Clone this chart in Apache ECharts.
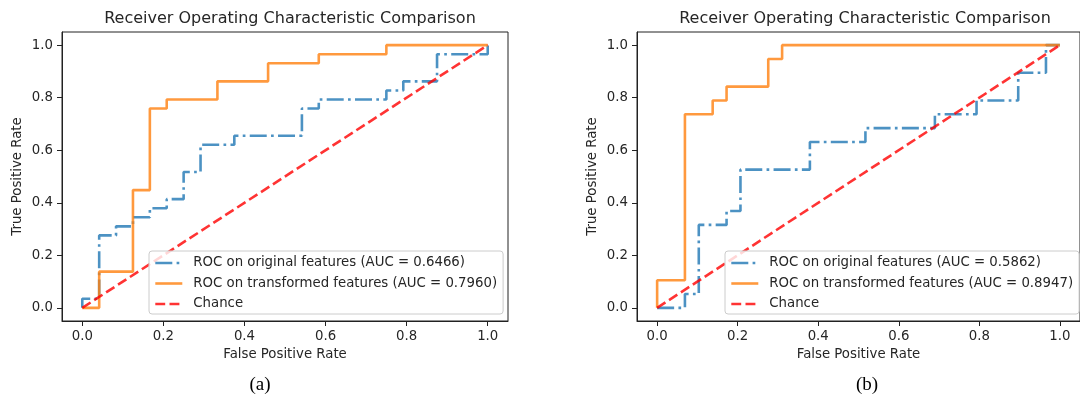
<!DOCTYPE html>
<html>
<head>
<meta charset="utf-8">
<script src="https://cdn.jsdelivr.net/npm/echarts@6/dist/echarts.min.js"></script>
<style>
html,body{margin:0;padding:0;background:#fff;}
#chart{width:1080px;height:401px;}
</style>
</head>
<body>
<div id="chart"></div>
<script>
// ---- data ----
const tickValues = [0, 0.2, 0.4, 0.6, 0.8, 1.0];

const leftOrigName = 'ROC on original features (AUC = 0.6466)';
const leftTransName = 'ROC on transformed features (AUC = 0.7960)';
const rightOrigName = 'ROC on original features (AUC = 0.5862)';
const rightTransName = 'ROC on transformed features (AUC = 0.8947)';
const chanceName = 'Chance';

const leftOrigFpr = [0, 0, 0.0417, 0.0417, 0.0833, 0.0833, 0.125, 0.125, 0.1667, 0.1667, 0.2083, 0.2083, 0.25, 0.25, 0.2917, 0.2917, 0.375, 0.375, 0.5417, 0.5417, 0.5833, 0.5833, 0.75, 0.75, 0.7917, 0.7917, 0.875, 0.875, 1.0, 1.0];
const leftOrigTpr = [0, 0.0345, 0.0345, 0.2759, 0.2759, 0.3103, 0.3103, 0.3448, 0.3448, 0.3793, 0.3793, 0.4138, 0.4138, 0.5172, 0.5172, 0.6207, 0.6207, 0.6552, 0.6552, 0.7586, 0.7586, 0.7931, 0.7931, 0.8276, 0.8276, 0.8621, 0.8621, 0.9655, 0.9655, 1.0];

const leftTransFpr = [0, 0.0417, 0.0417, 0.125, 0.125, 0.1667, 0.1667, 0.2083, 0.2083, 0.3333, 0.3333, 0.4583, 0.4583, 0.5833, 0.5833, 0.75, 0.75, 1.0];
const leftTransTpr = [0, 0, 0.1379, 0.1379, 0.4483, 0.4483, 0.7586, 0.7586, 0.7931, 0.7931, 0.8621, 0.8621, 0.931, 0.931, 0.9655, 0.9655, 1.0, 1.0];

const rightOrigFpr = [0, 0.069, 0.069, 0.1034, 0.1034, 0.1724, 0.1724, 0.2069, 0.2069, 0.3793, 0.3793, 0.5172, 0.5172, 0.6897, 0.6897, 0.7931, 0.7931, 0.8966, 0.8966, 0.9655, 0.9655, 1.0];
const rightOrigTpr = [0, 0, 0.0526, 0.0526, 0.3158, 0.3158, 0.3684, 0.3684, 0.5263, 0.5263, 0.6316, 0.6316, 0.6842, 0.6842, 0.7368, 0.7368, 0.7895, 0.7895, 0.8947, 0.8947, 1.0, 1.0];

const rightTransFpr = [0, 0, 0.069, 0.069, 0.1379, 0.1379, 0.1724, 0.1724, 0.2759, 0.2759, 0.3103, 0.3103, 1.0];
const rightTransTpr = [0, 0.1053, 0.1053, 0.7368, 0.7368, 0.7895, 0.7895, 0.8421, 0.8421, 0.9474, 0.9474, 1.0, 1.0];

const chanceFpr = [0, 1];
const chanceTpr = [0, 1];

const titleText = 'Receiver Operating Characteristic Comparison';
const xLabel = 'False Positive Rate';
const yLabel = 'True Positive Rate';
const captions = ['(a)', '(b)'];

// ---- helpers ----
const zip = (xs, ys) => xs.map((x, i) => [x, ys[i]]);
const FONT = 'DejaVu Sans';
const TXT = '#262626';

const BLUE = '#1f77b4', ORANGE = '#ff7f0e', RED = '#ff0000';
const LW = 2.6;

function lineSeries(name, xs, ys, idx, color, type) {
  return {
    type: 'line', name, xAxisIndex: idx, yAxisIndex: idx,
    data: zip(xs, ys), symbol: 'none', showSymbol: false,
    lineStyle: { color, width: LW, type, opacity: 0.8, cap: 'butt' },
    itemStyle: { color, opacity: 0.8 },
    silent: true, animation: false
  };
}

const dashDot = [17, 4.3, 2.7, 4.3];
const dashed = [9.9, 4.3];

function xAxis(gi) {
  return {
    type: 'value', gridIndex: gi, min: -0.05, max: 1.05,
    name: xLabel, nameLocation: 'middle', nameGap: 24,
    nameTextStyle: { fontFamily: FONT, fontSize: 13.3, color: TXT },
    axisLine: { show: true, onZero: false, lineStyle: { color: '#222', width: 1 } },
    axisTick: { show: true, length: 5, customValues: tickValues, lineStyle: { color: '#222', width: 1 } },
    axisLabel: { show: true, margin: 9, customValues: tickValues, fontFamily: FONT, fontSize: 13.3, color: TXT,
      formatter: v => v.toFixed(1) },
    splitLine: { show: false }
  };
}
function yAxis(gi) {
  return {
    type: 'value', gridIndex: gi, min: -0.05, max: 1.05,
    name: yLabel, nameLocation: 'middle', nameGap: 38, nameRotate: 90,
    nameTextStyle: { fontFamily: FONT, fontSize: 13.3, color: TXT },
    axisLine: { show: true, onZero: false, lineStyle: { color: '#222', width: 1 } },
    axisTick: { show: true, length: 5, customValues: tickValues, lineStyle: { color: '#222', width: 1 } },
    axisLabel: { show: true, margin: 9, customValues: tickValues, fontFamily: FONT, fontSize: 13.3, color: TXT,
      formatter: v => v.toFixed(1) },
    splitLine: { show: false }
  };
}
function legend(left, names) {
  return {
    orient: 'vertical', left, top: 251,
    data: names,
    padding: [5, 6, 3, 5],
    itemWidth: 27, itemHeight: 14, itemGap: 6.5,
    itemStyle: { opacity: 0 },
    lineStyle: { width: LW },
    backgroundColor: 'rgba(255,255,255,0.8)',
    borderColor: '#cccccc', borderWidth: 1, borderRadius: 3,
    selectedMode: false,
    textStyle: { fontFamily: FONT, fontSize: 13.3, color: TXT, lineHeight: 14, padding: [0, 0, 0, 6] }
  };
}

const chart = echarts.init(document.getElementById('chart'), null, { renderer: 'canvas' });
chart.setOption({
  animation: false,
  backgroundColor: '#ffffff',
  title: [
    { text: titleText, left: 285, top: 6, textAlign: 'center',
      textStyle: { fontFamily: FONT, fontSize: 16, fontWeight: 'normal', color: TXT } },
    { text: titleText, left: 860, top: 6, textAlign: 'center',
      textStyle: { fontFamily: FONT, fontSize: 16, fontWeight: 'normal', color: TXT } },
    { text: captions[0], left: 255, top: 371, textAlign: 'center',
      textStyle: { fontFamily: 'Liberation Serif', fontSize: 19, fontWeight: 'normal', color: '#000' } },
    { text: captions[1], left: 862, top: 371, textAlign: 'center',
      textStyle: { fontFamily: 'Liberation Serif', fontSize: 19, fontWeight: 'normal', color: '#000' } }
  ],
  grid: [
    { left: 62, top: 32, width: 446, height: 289, show: true, borderColor: '#222', borderWidth: 1, backgroundColor: 'transparent' },
    { left: 637, top: 32, width: 447, height: 289, show: true, borderColor: '#222', borderWidth: 1, backgroundColor: 'transparent' }
  ],
  xAxis: [xAxis(0), xAxis(1)],
  yAxis: [yAxis(0), yAxis(1)],
  legend: [
    legend(149, [leftOrigName, leftTransName, chanceName]),
    legend(725, [rightOrigName, rightTransName, chanceName])
  ],
  series: [
    lineSeries(leftOrigName, leftOrigFpr, leftOrigTpr, 0, BLUE, dashDot),
    lineSeries(leftTransName, leftTransFpr, leftTransTpr, 0, ORANGE, 'solid'),
    lineSeries(chanceName, chanceFpr, chanceTpr, 0, RED, dashed),
    lineSeries(rightOrigName, rightOrigFpr, rightOrigTpr, 1, BLUE, dashDot),
    lineSeries(rightTransName, rightTransFpr, rightTransTpr, 1, ORANGE, 'solid'),
    lineSeries(chanceName, chanceFpr, chanceTpr, 1, RED, dashed)
  ]
});
</script>
</body>
</html>
